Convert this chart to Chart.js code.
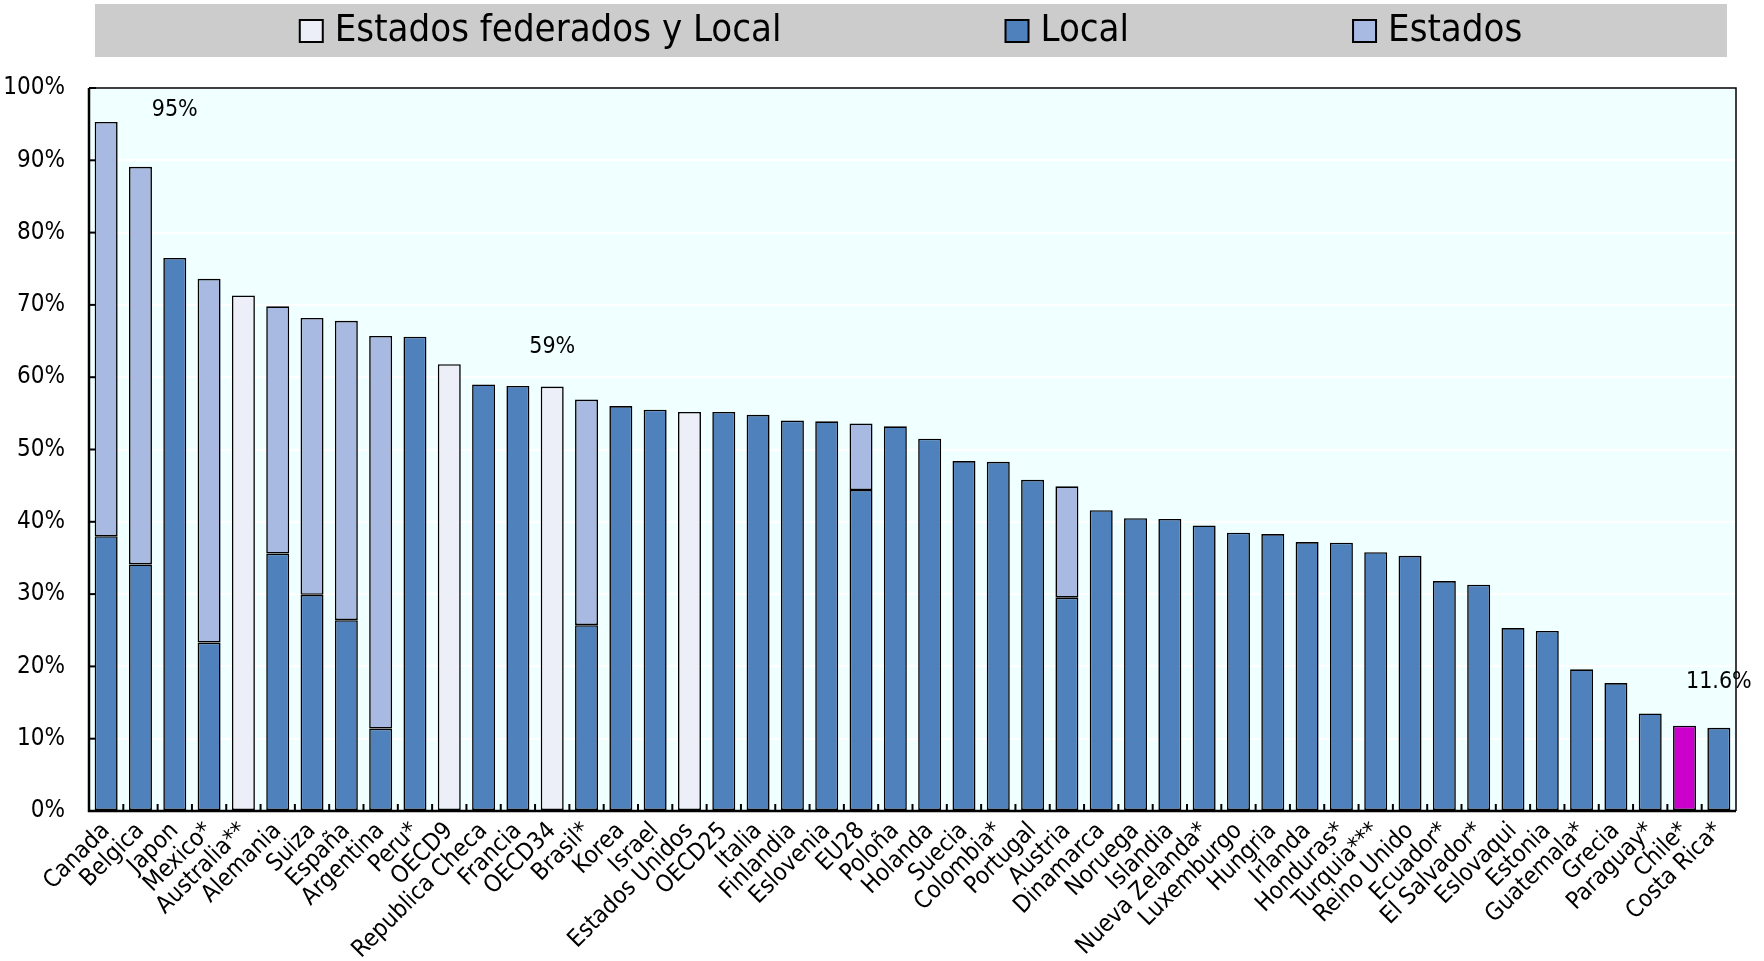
<!DOCTYPE html>
<html><head><meta charset="utf-8">
<script src="https://cdn.jsdelivr.net/npm/chart.js@4.4.1/dist/chart.umd.min.js"></script>
<style>html,body{margin:0;padding:0;background:#fff;}canvas{display:block;}</style>
</head><body>
<canvas id="c" width="1764" height="961"></canvas>
<script>
// ---------- DATA ----------
const categories = ['Canada','Belgica','Japon','Mexico*','Australia**','Alemania','Suiza','España','Argentina','Peru*',
  'OECD9','Republica Checa','Francia','OECD34','Brasil*','Korea','Israel','Estados Unidos','OECD25','Italia',
  'Finlandia','Eslovenia','EU28','Poloña','Holanda','Suecia','Colombia*','Portugal','Austria','Dinamarca',
  'Noruega','Islandia','Nueva Zelanda*','Luxemburgo','Hungria','Irlanda','Honduras*','Turquia***','Reino Unido','Ecuador*',
  'El Salvador*','Eslovaqui','Estonia','Guatemala*','Grecia','Paraguay*','Chile*','Costa Rica*'];

const federadosValues = [null,null,null,null,71.3,null,null,null,null,null,
  61.8,null,null,58.7,null,null,null,55.2,null,null,
  null,null,null,null,null,null,null,null,null,null,
  null,null,null,null,null,null,null,null,null,null,
  null,null,null,null,null,null,null,null];

const localValues = [38.0,34.1,76.5,23.3,null,35.6,29.9,26.4,11.4,65.6,
  null,59.0,58.8,null,25.7,56.0,55.5,null,55.2,54.8,
  54.0,53.9,44.4,53.2,51.5,48.4,48.3,45.8,29.5,41.6,
  40.5,40.4,39.5,38.5,38.3,37.2,37.1,35.8,35.3,31.8,
  31.3,25.3,24.9,19.6,17.7,13.5,11.8,11.5];

const estadosValues = [57.3,55.0,null,50.3,null,34.2,38.3,41.4,54.3,null,
  null,null,null,null,31.2,null,null,null,null,null,
  null,null,9.2,null,null,null,null,null,15.4,null,
  null,null,null,null,null,null,null,null,null,null,
  null,null,null,null,null,null,null,null];

const seriesNames = ['Estados federados y Local','Local','Estados'];
const highlightCategory = 'Chile*';

const yTickValues = [0,10,20,30,40,50,60,70,80,90,100];

const annotationTexts = ['95%','59%','11.6%'];
const annotationIndex = [2, 13, 47];
const annotationValue = [97.0, 64.2, 17.9];

// ---------- STYLE ----------
const FONT = "'Liberation Sans Narrow','Arial Narrow','DejaVu Sans Condensed',sans-serif";
const COL_FED = '#EDEFF8';
const COL_LOCAL = '#4F81BD';
const COL_EST = '#A8B9E2';
const COL_HL = '#CC00CC';
const PLOT_BG = '#F0FFFF';

const bgPlugin = {
  id:'bg',
  beforeDraw(chart){
    const {ctx, chartArea:a} = chart;
    ctx.save();
    ctx.fillStyle='#ffffff'; ctx.fillRect(0,0,chart.width,chart.height);
    ctx.fillStyle=PLOT_BG; ctx.fillRect(a.left,a.top,a.right-a.left,a.bottom-a.top);
    ctx.restore();
  }
};

const framePlugin = {
  id:'frame',
  afterDatasetsDraw(chart){
    const {ctx, chartArea:a, scales:{x,y}} = chart;
    ctx.save();
    ctx.strokeStyle='#000';
    ctx.lineWidth=1.5;
    ctx.beginPath();
    ctx.moveTo(a.left,a.top); ctx.lineTo(a.right,a.top); ctx.lineTo(a.right,a.bottom);
    ctx.stroke();
    ctx.lineWidth=2.5;
    ctx.beginPath();
    ctx.moveTo(a.left,a.top); ctx.lineTo(a.left,a.bottom); ctx.lineTo(a.right,a.bottom);
    ctx.stroke();
    ctx.lineWidth=2;
    yTickValues.forEach(v=>{
      const py=y.getPixelForValue(v);
      ctx.beginPath(); ctx.moveTo(a.left,py); ctx.lineTo(a.left+7,py); ctx.stroke();
    });
    for(let i=0;i<categories.length-1;i++){
      const px=(x.getPixelForValue(i)+x.getPixelForValue(i+1))/2;
      ctx.beginPath(); ctx.moveTo(px,a.bottom); ctx.lineTo(px,a.bottom-7); ctx.stroke();
    }
    // annotations
    ctx.fillStyle='#000';
    ctx.font='23px '+FONT;
    ctx.textAlign='center'; ctx.textBaseline='middle';
    annotationTexts.forEach((t,k)=>{
      ctx.fillText(t, x.getPixelForValue(annotationIndex[k]), y.getPixelForValue(annotationValue[k]));
    });
    ctx.restore();
  }
};

const legendPlugin = {
  id:'customLegend',
  afterDraw(chart){
    const {ctx, chartArea:a} = chart;
    const top=4, h=53, left=a.left+6, right=a.right-9;
    ctx.save();
    ctx.fillStyle='#CCCCCC';
    ctx.fillRect(left,top,right-left,h);
    ctx.font='38px '+FONT;
    ctx.textBaseline='middle';
    const box=23, gapBT=12, gapItems=224;
    const colors=chart.data.datasets.map(d=>d.legendColor);
    const names=chart.data.datasets.map(d=>d.label);
    const widths=names.map(n=>box+gapBT+ctx.measureText(n).width);
    const total=widths.reduce((s,w)=>s+w,0)+gapItems*(names.length-1);
    let cx=(left+right)/2-total/2;
    const cy=top+h/2;
    names.forEach((n,i)=>{
      ctx.fillStyle=colors[i];
      ctx.fillRect(cx,cy-box/2+1,box,box-1);
      ctx.strokeStyle='#000'; ctx.lineWidth=2;
      ctx.strokeRect(cx,cy-box/2+1,box,box-1);
      ctx.fillStyle='#000';
      ctx.fillText(n,cx+box+gapBT,cy+1);
      cx+=widths[i]+gapItems;
    });
    ctx.restore();
  }
};

const barCommon = {borderColor:'#000', borderWidth:1.6, barPercentage:0.67, categoryPercentage:1.0, borderSkipped:false};

new Chart(document.getElementById('c'), {
  type:'bar',
  data:{
    labels:categories,
    datasets:[
      Object.assign({label:seriesNames[0], data:federadosValues, backgroundColor:COL_FED, legendColor:COL_FED}, barCommon),
      Object.assign({label:seriesNames[1], data:localValues,
        backgroundColor:categories.map(c=>c===highlightCategory?COL_HL:COL_LOCAL), legendColor:COL_LOCAL}, barCommon),
      Object.assign({label:seriesNames[2], data:estadosValues, backgroundColor:COL_EST, legendColor:COL_EST}, barCommon)
    ]
  },
  options:{
    responsive:false,
    devicePixelRatio:1,
    animation:false,
    layout:{padding:{top:88,left:0,right:28,bottom:0}},
    plugins:{legend:{display:false}, tooltip:{enabled:false}},
    scales:{
      x:{
        stacked:true,
        grid:{display:false, drawTicks:false},
        border:{display:false},
        ticks:{color:'#000', font:{family:FONT,size:24}, maxRotation:45, minRotation:45, autoSkip:false, padding:6},
        afterFit(s){ s.height=150; }
      },
      y:{
        stacked:true, min:0, max:100,
        afterBuildTicks(s){ s.ticks = yTickValues.map(v=>({value:v})); },
        grid:{color:'#FFFFFF', lineWidth:2, drawTicks:false},
        border:{display:false},
        ticks:{color:'#000', font:{family:FONT,size:24}, padding:24, callback:v=>v+'%'},
        afterFit(s){ s.width=89; }
      }
    }
  },
  plugins:[bgPlugin, framePlugin, legendPlugin]
});
</script>
</body></html>
